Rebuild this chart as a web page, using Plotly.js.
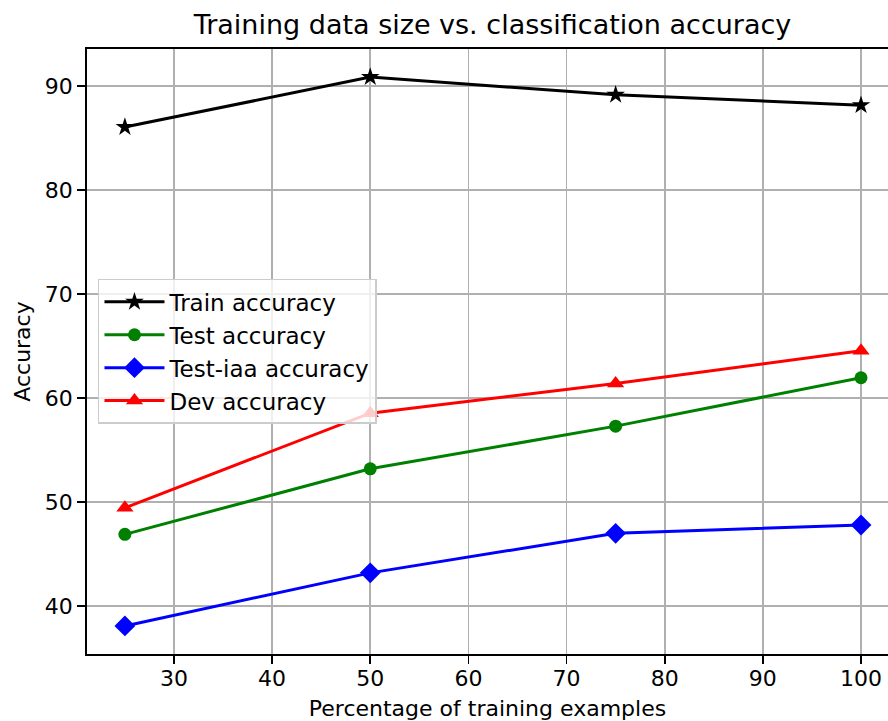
<!DOCTYPE html>
<html>
<head>
<meta charset="utf-8">
<script src="https://cdn.plot.ly/plotly-3.0.1.min.js"></script>
<style>html,body{margin:0;padding:0;background:#fff;}#chart{width:888px;height:721px;}</style>
</head>
<body>
<div id="chart"></div>
<script>
const percentages = [25, 50, 75, 100];
const trainAccuracy = [86.05, 90.85, 89.15, 88.15];
const testAccuracy = [46.9, 53.2, 57.3, 61.95];
const testIaaAccuracy = [38.1, 43.2, 47.0, 47.8];
const devAccuracy = [49.45, 58.55, 61.4, 64.55];
const xTicks = [30, 40, 50, 60, 70, 80, 90, 100];
const yTicks = [40, 50, 60, 70, 80, 90];

const font = "DejaVu Sans, sans-serif";
function series(name, y, color, symbol, size) {
  return {
    x: percentages, y: y, name: name, type: 'scatter', mode: 'lines+markers',
    line: {color: color, width: 3},
    marker: {color: color, symbol: symbol, size: size, line: {width: 0}}
  };
}
const data = [
  series('Train accuracy', trainAccuracy, 'black', 'star', 14),
  series('Test accuracy', testAccuracy, 'green', 'circle', 13),
  series('Test-iaa accuracy', testIaaAccuracy, 'blue', 'diamond', 16),
  series('Dev accuracy', devAccuracy, 'red', 'triangle-up', 15)
];
const layout = {
  width: 888, height: 721,
  margin: {l: 87, r: 0, t: 49, b: 67},
  paper_bgcolor: 'white', plot_bgcolor: 'white',
  font: {family: font, color: 'black', size: 22},
  title: {text: 'Training data size vs. classification accuracy', font: {size: 27, family: font}, x: 0.5546, xanchor: 'center', y: 0.9653, yanchor: 'middle'},
  xaxis: {
    range: [21.14, 102.75], tickvals: xTicks, ticktext: xTicks.map(String),
    showgrid: true, gridcolor: '#b0b0b0', gridwidth: 1.8,
    showline: true, linecolor: 'black', linewidth: 1.8, mirror: true,
    ticks: 'outside', ticklen: 8, tickwidth: 1.8, tickcolor: 'black', zeroline: false,
    tickfont: {size: 22}, ticklabelstandoff: -4,
    title: {text: 'Percentage of training examples', font: {size: 22}, standoff: 10}
  },
  yaxis: {
    range: [35.4, 93.55], tickvals: yTicks, ticktext: yTicks.map(String),
    showgrid: true, gridcolor: '#b0b0b0', gridwidth: 1.8,
    showline: true, linecolor: 'black', linewidth: 1.8, mirror: false,
    ticks: 'outside', ticklen: 8, tickwidth: 1.8, tickcolor: 'black', zeroline: false,
    tickfont: {size: 22},
    title: {text: 'Accuracy', font: {size: 22}, standoff: 8}
  },
  showlegend: true,
  legend: {
    x: 0.0137, y: 0.62, xanchor: 'left', yanchor: 'top',
    bgcolor: 'rgba(255,255,255,0.8)', bordercolor: '#cccccc', borderwidth: 1.5,
    font: {size: 23, family: font}, tracegroupgap: 0, itemwidth: 60
  }
};
Plotly.newPlot('chart', data, layout, {displayModeBar: false, staticPlot: true});
</script>
</body>
</html>
